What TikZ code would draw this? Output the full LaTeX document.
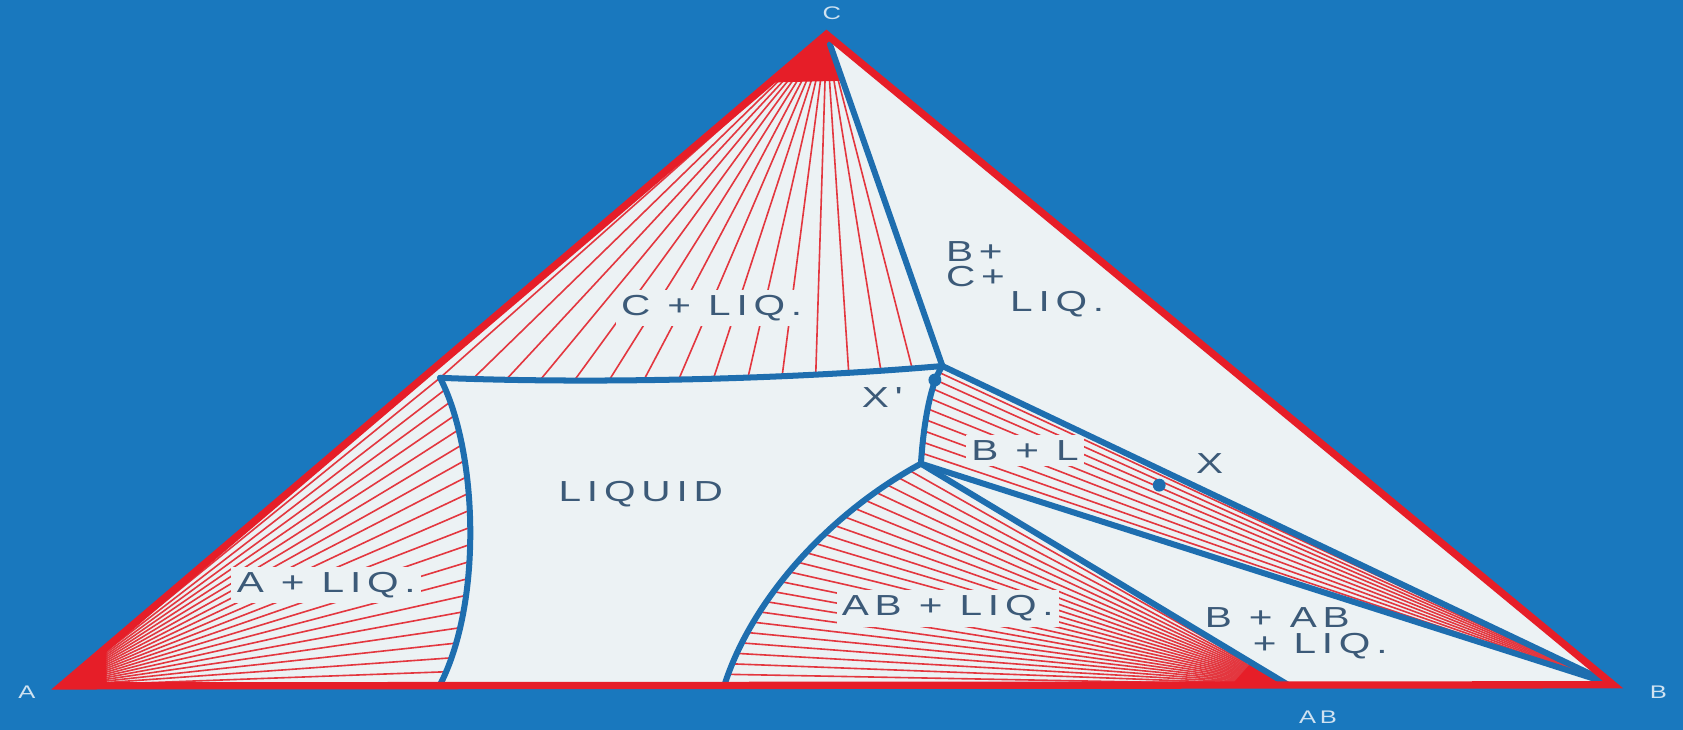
\documentclass[tikz,border=0pt]{standalone}
\usepackage{fontspec}
\usetikzlibrary{calc}
\newfontfamily\lblfont{Liberation Sans}[FakeStretch=1.4,LetterSpace=20]
\definecolor{bg}{HTML}{1978BE}
\definecolor{paper}{HTML}{ECF2F4}
\definecolor{ered}{HTML}{E61E28}
\definecolor{tiered}{HTML}{E3373F}
\definecolor{bline}{HTML}{1E6EAF}
\definecolor{tcol}{HTML}{3C5A78}
\definecolor{vcol}{HTML}{CFE2F1}
\begin{document}
\begin{tikzpicture}[x=0.5pt,y=-0.5pt,
  tie/.style={draw=tiered, line width=0.75pt},
  bnd/.style={draw=bline, line width=2.8pt, line cap=round, line join=round},
  edgeline/.style={draw=ered, line width=3.4pt, line join=miter},
  lbl/.style={font=\lblfont\fontsize{13.5}{15}\selectfont, text=tcol, fill=paper, inner sep=2.5pt},
  vlbl/.style={font=\lblfont\fontsize{8.5}{10}\selectfont, text=vcol, inner sep=0pt},
  dotmark/.style={fill=bline, circle, inner sep=0pt, minimum size=6pt}]
\fill[bg] (0,0) rectangle (1568,680);
\useasboundingbox (0,0) rectangle (1568,680);
% vertices and invariant points
\coordinate (A) at (57,639);
\coordinate (B) at (1503,638);
\coordinate (C) at (770,32);
\coordinate (AB) at (1200,638);
\coordinate (P) at (878,341);
\coordinate (E) at (858,432);
\coordinate (Lt) at (410,352);
\coordinate (Lb) at (410,638);
\coordinate (Eb) at (675,638);
% triangle paper
\fill[paper] (A) -- (B) -- (C) -- cycle;
% tie lines
\begin{scope}
\clip (A) -- (B) -- (C) -- cycle;
\foreach \i in {0,...,15} {
  \path (Lt) .. controls (560,358) and (740,353) .. (P) coordinate[pos=\i/15] (q);
  \draw[tie] (C) -- (q);
}
\fill[ered] (C) -- ($(C)!0.14!(Lt)$) -- ($(C)!0.14!(P)$) -- cycle;
\foreach \i in {0,...,20} {
  \path (Lt) .. controls (445,420) and (450,560) .. (Lb) coordinate[pos=\i/20] (q);
  \draw[tie] (A) -- (q);
}
\fill[ered] (A) -- ($(A)!0.12!(Lt)$) -- ($(A)!0.12!(Lb)$) -- cycle;
\foreach \i in {0,...,24} {
  \path (E) .. controls (770,480) and (700,560) .. (Eb) coordinate[pos=\i/24] (q);
  \draw[tie] (AB) -- (q);
}
\fill[ered] (AB) -- ($(AB)!0.1!(E)$) -- ($(AB)!0.1!(Eb)$) -- cycle;
\foreach \i in {0,...,10} {
  \path (P) .. controls (866,358) and (860,400) .. (E) coordinate[pos=\i/10] (q);
  \draw[tie] (B) -- (q);
}
\fill[ered] (B) -- ($(B)!0.06!(P)$) -- ($(B)!0.06!(E)$) -- cycle;
\end{scope}
% field labels
\node[lbl] (cliq) at (663,287) {C + LIQ.};
\node[lbl] (aliq) at (304,545) {A + LIQ.};
\node[lbl] (abliq) at (883,567) {AB + LIQ.};
\node[lbl] (bl) at (955,420) {B + L};
\node[lbl] (liquid) at (597,460) {LIQUID};
\node[lbl, anchor=west] (bplus) at (876,234) {B+};
\node[lbl, anchor=west] (cplus) at (876,258) {C+};
\node[lbl] (liqr) at (985,283) {LIQ.};
\node[lbl] (bab) at (1190,575) {B + AB};
\node[lbl] (pliq) at (1230,602) {+ LIQ.};
\node[lbl] (xp) at (822,370) {X'};
\node[lbl] (xl) at (1127,432) {X};
% boundaries
\draw[bnd] ($(C)!0.03!(P)$) -- (P);
\draw[bnd] (Lt) .. controls (560,358) and (740,353) .. (P);
\draw[bnd] (Lt) .. controls (445,420) and (450,560) .. (Lb);
\draw[bnd] (P) .. controls (866,358) and (860,400) .. (E);
\draw[bnd] (E) .. controls (770,480) and (700,560) .. (Eb);
\draw[bnd] (E) -- (AB);
\draw[bnd] (E) -- (B);
\draw[bnd] (P) -- (B);
% triangle edges
\draw[edgeline] (A) -- (B) -- (C) -- cycle;
% points
\node[dotmark] (xpdot) at (871,354) {};
\node[dotmark] (xdot) at (1080,452) {};
% vertex labels
\node[vlbl] (lc) at (775,12) {C};
\node[vlbl] (la) at (25,645) {A};
\node[vlbl] (lb) at (1545,645) {B};
\node[vlbl] (lab) at (1228,668) {AB};
\end{tikzpicture}
\end{document}
